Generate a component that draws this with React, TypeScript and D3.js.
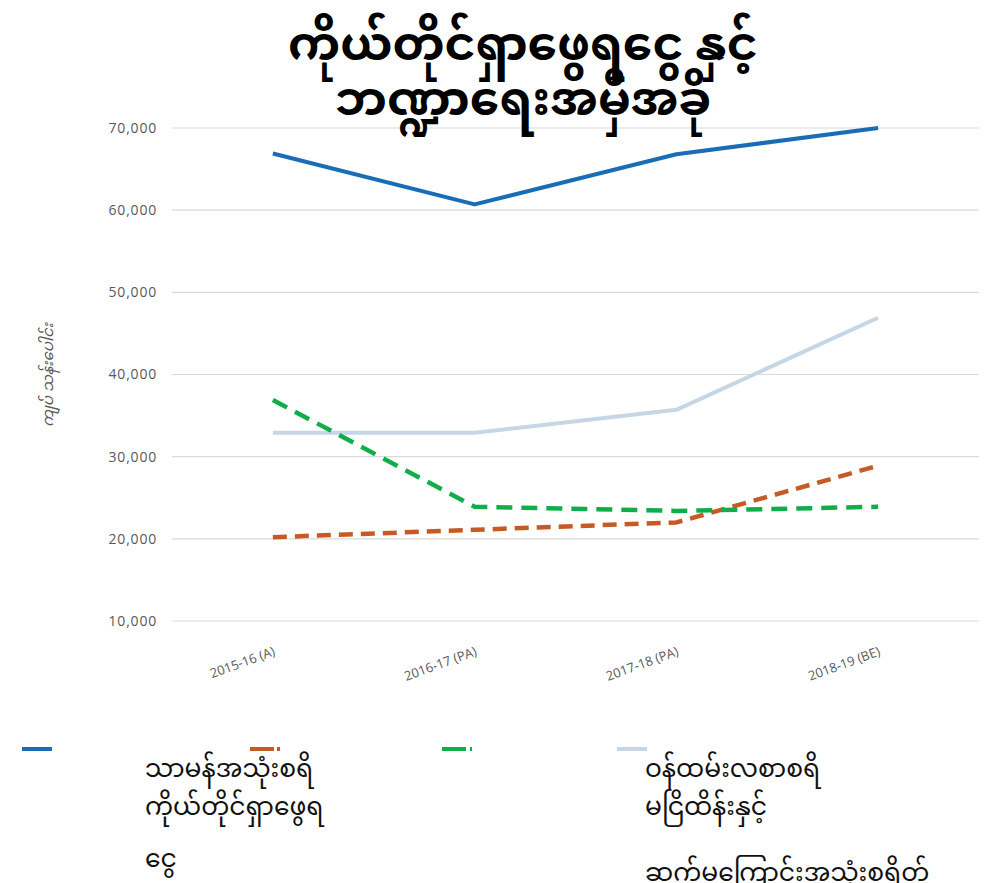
import React from "react";
import * as d3 from "d3";

const categories = ["2015-16 (A)", "2016-17 (PA)", "2017-18 (PA)", "2018-19 (BE)"];
const seriesBlue = [66900, 60700, 66800, 70000];
const seriesOrange = [20200, 21100, 22000, 28900];
const seriesGreen = [36900, 23900, 23400, 23900];
const seriesLight = [32900, 32900, 35700, 46900];
const yTicks = [10000, 20000, 30000, 40000, 50000, 60000, 70000];
const titleLines = ["ကိုယ်တိုင်ရှာဖွေရငွေ နှင့်", "ဘဏ္ဍာရေးအမှီအခို"];
const yLabel = "ကျပ် သန်းပေါင်း";
const legendLeft = ["သာမန်အသုံးစရိ", "ကိုယ်တိုင်ရှာဖွေရ", "ငွေ"];
const legendRight = ["ဝန်ထမ်းလစာစရိ", "မငြိထိန်းနှင့်", "ဆက်မကြောင်းအသုံးစရိတ်"];

const MY = "'Noto Sans Myanmar', 'Padauk', 'Myanmar Text', 'Noto Sans', sans-serif";
const SANS = "'Open Sans', 'DejaVu Sans', sans-serif";

export default function App() {
  const W = 995, H = 883;
  const x = d3.scaleBand().domain(categories).range([172, 979]);
  const y = d3.scaleLinear().domain([10000, 70000]).range([621, 128]);
  const cx = (c: string) => (x(c) as number) + x.bandwidth() / 2;
  const line = d3
    .line<number>()
    .x((_, i) => cx(categories[i]))
    .y((d) => y(d));
  const series = [
    { data: seriesLight, color: "#c6d6e5", dash: "", w: 4 },
    { data: seriesOrange, color: "#c55a24", dash: "14 8", w: 4.5 },
    { data: seriesGreen, color: "#12ad4b", dash: "16 9", w: 4.5 },
    { data: seriesBlue, color: "#1a6cb6", dash: "", w: 4 },
  ];
  const legendMarks = [
    { x: 22, color: "#1a6cb6", dash: "" },
    { x: 250, color: "#c55a24", dash: "24 3 3 10" },
    { x: 442, color: "#12ad4b", dash: "24 4 4 10" },
    { x: 617, color: "#c6d6e5", dash: "" },
  ];
  const leftY = [777, 815, 867];
  const rightY = [777, 815, 881];
  return (
    <svg
      width={W}
      height={H}
      style={{ position: "absolute", left: 0, top: 0, background: "#fff" }}
    >
      <rect width={W} height={H} fill="#fff" />
      {yTicks.map((t) => (
        <g key={t}>
          <line x1={172} x2={979} y1={y(t)} y2={y(t)} stroke="#dadada" strokeWidth={1.2} />
          <text
            x={157}
            y={y(t)}
            dy="0.35em"
            textAnchor="end"
            fontSize={14}
            letterSpacing={0.8}
            fill="#595959"
            fontFamily={SANS}
          >
            {d3.format(",")(t)}
          </text>
        </g>
      ))}
      {categories.map((c) => (
        <text
          key={c}
          transform={`translate(${cx(c) + 3},${655}) rotate(-20)`}
          textAnchor="end"
          fontSize={13}
          fill="#595959"
          fontFamily={SANS}
        >
          {c}
        </text>
      ))}
      {series.map((s, i) => (
        <path
          key={i}
          d={line(s.data) as string}
          fill="none"
          stroke={s.color}
          strokeWidth={s.w}
          strokeDasharray={s.dash}
          strokeLinejoin="round"
        />
      ))}
      <text
        transform={`translate(53,375) rotate(-90)`}
        textAnchor="middle"
        fontSize={15}
        fontStyle="italic"
        fill="#595959"
        fontFamily={MY}
      >
        {yLabel}
      </text>
      {titleLines.map((t, i) => (
        <text
          key={i}
          x={523}
          y={60 + i * 55}
          textAnchor="middle"
          fontSize={47}
          fontWeight="bold"
          fill="#000"
          fontFamily={MY}
        >
          {t}
        </text>
      ))}
      {legendMarks.map((m, i) => (
        <line
          key={i}
          x1={m.x}
          x2={m.x + 30}
          y1={749}
          y2={749}
          stroke={m.color}
          strokeWidth={4}
          strokeDasharray={m.dash}
        />
      ))}
      {legendLeft.map((t, i) => (
        <text key={"l" + i} x={145} y={leftY[i]} fontSize={25} fill="#111" fontFamily={MY}>
          {t}
        </text>
      ))}
      {legendRight.map((t, i) => (
        <text key={"r" + i} x={645} y={rightY[i]} fontSize={25} fill="#111" fontFamily={MY}>
          {t}
        </text>
      ))}
    </svg>
  );
}
